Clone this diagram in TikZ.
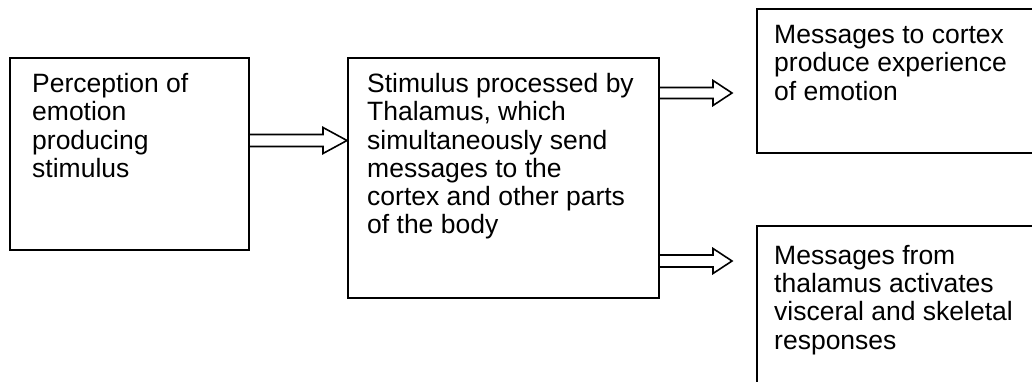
\documentclass[tikz,border=0pt]{standalone}
\usepackage{fontspec}
\setmainfont{Liberation Sans}
\usetikzlibrary{calc}
\begin{document}
\begin{tikzpicture}[x=1pt,y=1pt,
  box/.style={draw, line width=1.8pt, rectangle, inner sep=0pt, anchor=north west},
  txt/.style={anchor=north west, inner sep=0pt, align=left, font=\fontsize{26.5}{28.3}\selectfont},
  arr/.style={draw, line width=1.6pt, line join=miter}]
\useasboundingbox (0,0) rectangle (1032,-382);
\clip (0,0) rectangle (1032,-382);
% boxes
\node[box, minimum width=239, minimum height=192] (b1) at (9,-57) {};
\node[box, minimum width=311, minimum height=240] (b2) at (347,-57) {};
\node[box, minimum width=300, minimum height=144] (b3) at (756,-8) {};
\node[box, minimum width=300, minimum height=200] (b4) at (756,-225) {};
% texts
\node[txt] (t1) at (32,-73) {Perception of\\emotion\\producing\\stimulus};
\node[txt] (t2) at (367,-73) {Stimulus processed by\\Thalamus, which\\simultaneously send\\messages to the\\cortex and other parts\\of the body};
\node[txt] (t3) at (774,-25) {Messages to cortex\\produce experience\\of emotion};
\node[txt] (t4) at (774,-245) {Messages from\\thalamus activates\\visceral and skeletal\\responses};
% arrow tip coordinates
\coordinate (e2) at (732,-93);
\coordinate (e3) at (732,-261);
% hollow arrows
\draw[arr] (b1.east |- 0,-134.5) -- (323,-134.5) -- (323,-127.5) -- (b2.west |- 0,-140.5)
  -- (323,-153.5) -- (323,-146.5) -- (b1.east |- 0,-146.5);
\draw[arr] (b2.east |- 0,-87.5) -- (713,-87.5) -- (713,-80.5) -- (e2)
  -- (713,-105.5) -- (713,-98.5) -- (b2.east |- 0,-98.5);
\draw[arr] (b2.east |- 0,-255) -- (713,-255) -- (713,-248.5) -- (e3)
  -- (713,-273.5) -- (713,-267) -- (b2.east |- 0,-267);
\end{tikzpicture}
\end{document}
